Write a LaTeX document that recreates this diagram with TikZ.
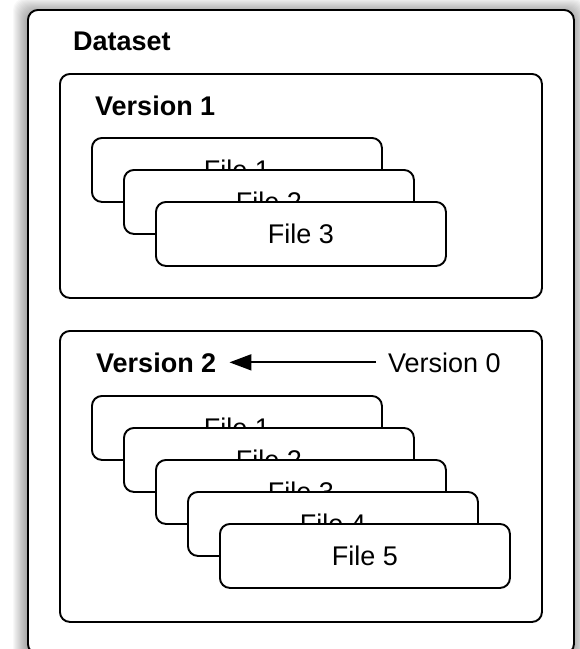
\documentclass[tikz,border=0pt]{standalone}
\usepackage{fontspec}
\setmainfont{Liberation Sans}
\usetikzlibrary{arrows.meta}
\begin{document}
\begin{tikzpicture}[x=1pt,y=-1pt,
  frame/.style={draw=black, line width=1.9pt, fill=white, rounded corners=10pt, inner sep=0pt},
  container/.style={frame, anchor=north west},
  filebox/.style={frame, anchor=north west, minimum width=290pt, minimum height=64pt,
    font=\fontsize{27}{31}\selectfont},
  title/.style={anchor=base west, inner sep=0pt, font=\fontsize{27}{31}\selectfont\bfseries},
  plainlabel/.style={anchor=base west, inner sep=0pt, font=\fontsize{27}{31}\selectfont},
  link/.style={line width=1.9pt, -{Triangle[length=22pt,width=16pt]}},
]
\useasboundingbox (0,0) rectangle (580,649);

% soft drop shadow behind the dataset frame
\foreach \k in {1,...,14} {
  \fill[black, opacity=0.028, rounded corners=12pt]
    (27-\k, 12-\k) rectangle (573+\k, 656+\k);
}

% dataset frame
\node[container, minimum width=546pt, minimum height=644pt] (dataset) at (27,9) {};
\node[title] (dslabel) at (73,50) {Dataset};

% version 1 with its files
\node[container, minimum width=482pt, minimum height=224pt] (v1box) at (59,73) {};
\node[title] (v1) at (95,115) {Version 1};
\node[filebox] (a1) at (91,137) {File 1};
\node[filebox] (a2) at (123,169) {File 2};
\node[filebox] (a3) at (155,201) {File 3};

% version 2 with its files
\node[container, minimum width=482pt, minimum height=291pt] (v2box) at (59,330) {};
\node[title] (v2) at (96,372) {Version 2};
\node[plainlabel] (v0) at (388,372) {Version 0};
\draw[link, shorten <=12pt, shorten >=13pt] (v0.west) -- (v2.east);
\node[filebox] (b1) at (91,395) {File 1};
\node[filebox] (b2) at (123,427) {File 2};
\node[filebox] (b3) at (155,459) {File 3};
\node[filebox] (b4) at (187,491) {File 4};
\node[filebox] (b5) at (219,523) {File 5};
\end{tikzpicture}
\end{document}
